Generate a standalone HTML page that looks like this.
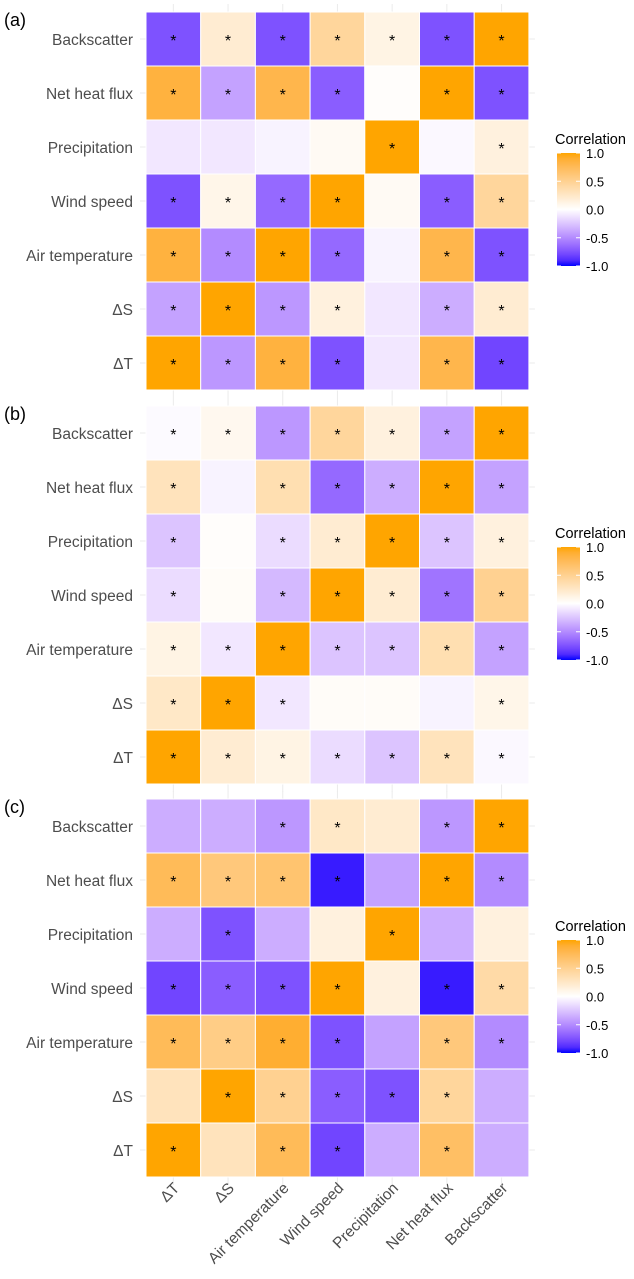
<!DOCTYPE html>
<html><head><meta charset="utf-8"><style>
body{margin:0;background:#fff;font-family:"Liberation Sans",sans-serif}
svg{display:block}
</style></head><body>
<svg id="c" width="634" height="1279" xmlns="http://www.w3.org/2000/svg"></svg>
<script>
const vars = ["ΔT","ΔS","Air temperature","Wind speed","Precipitation","Net heat flux","Backscatter"];
const rowsTopToBottom = ["Backscatter","Net heat flux","Precipitation","Wind speed","Air temperature","ΔS","ΔT"];
const panelLabels = ["(a)","(b)","(c)"];
const legendTicks = [1.0,0.5,0.0,-0.5,-1.0];
const valsA = [
 [-0.75,0.2,-0.75,0.45,0.12,-0.75,1],
 [0.85,-0.4,0.8,-0.7,0.02,1,-0.75],
 [-0.1,-0.1,-0.05,0.05,1,-0.03,0.15],
 [-0.75,0.1,-0.65,1,0.05,-0.7,0.45],
 [0.85,-0.5,1,-0.65,-0.05,0.8,-0.75],
 [-0.4,1,-0.45,0.15,-0.1,-0.35,0.2],
 [1,-0.45,0.85,-0.75,-0.1,0.8,-0.8]];
const starsA = [
 [1,1,1,1,1,1,1],[1,1,1,1,0,1,1],[0,0,0,0,1,0,1],[1,1,1,1,0,1,1],[1,1,1,1,0,1,1],[1,1,1,1,0,1,1],[1,1,1,1,0,1,1]];
const valsB = [
 [-0.02,0.07,-0.45,0.45,0.15,-0.4,1],
 [0.3,-0.05,0.35,-0.65,-0.35,1,-0.4],
 [-0.25,0.02,-0.15,0.2,1,-0.25,0.15],
 [-0.15,0.03,-0.3,1,0.2,-0.6,0.5],
 [0.12,-0.1,1,-0.25,-0.25,0.35,-0.4],
 [0.25,1,-0.1,0.03,0.03,-0.05,0.1],
 [1,0.2,0.12,-0.15,-0.25,0.3,-0.03]];
const starsB = [
 [1,1,1,1,1,1,1],[1,0,1,1,1,1,1],[1,0,1,1,1,1,1],[1,0,1,1,1,1,1],[1,1,1,1,1,1,1],[1,1,1,0,0,0,1],[1,1,1,1,1,1,1]];
const valsC = [
 [-0.35,-0.35,-0.45,0.25,0.2,-0.45,1],
 [0.75,0.6,0.65,-0.95,-0.4,1,-0.5],
 [-0.35,-0.75,-0.35,0.15,1,-0.35,0.15],
 [-0.8,-0.7,-0.75,1,0.15,-0.95,0.4],
 [0.75,0.55,0.9,-0.75,-0.4,0.6,-0.5],
 [0.3,1,0.5,-0.7,-0.75,0.45,-0.35],
 [1,0.3,0.75,-0.8,-0.35,0.7,-0.35]];
const starsC = [
 [0,0,1,1,0,1,1],[1,1,1,1,0,1,1],[0,1,0,0,1,0,0],[1,1,1,1,0,1,1],[1,1,1,1,0,1,1],[0,1,1,1,1,1,0],[1,0,1,1,0,1,0]];

const panels=[{v:valsA,s:starsA},{v:valsB,s:starsB},{v:valsC,s:starsC}];
const NS="http://www.w3.org/2000/svg";
const svg=document.getElementById('c');
function mk(t,a,p){const e=document.createElementNS(NS,t);for(const k in a)e.setAttribute(k,a[k]);(p||svg).appendChild(e);return e;}
function s2l(c){c/=255;return c<=0.04045?c/12.92:Math.pow((c+0.055)/1.055,2.4);}
function l2s(c){c=c<=0.0031308?12.92*c:1.055*Math.pow(c,1/2.4)-0.055;return Math.max(0,Math.min(255,Math.round(c*255)));}
function toLab(r,g,b){r=s2l(r);g=s2l(g);b=s2l(b);let x=(r*0.4124+g*0.3576+b*0.1805)/0.95047,y=r*0.2126+g*0.7152+b*0.0722,z=(r*0.0193+g*0.1192+b*0.9505)/1.08883;const f=t=>t>0.008856?Math.cbrt(t):7.787*t+16/116;x=f(x);y=f(y);z=f(z);return[116*y-16,500*(x-y),200*(y-z)];}
function fromLab(L,a,b){let y=(L+16)/116,x=a/500+y,z=y-b/200;const f=t=>t*t*t>0.008856?t*t*t:(t-16/116)/7.787;x=f(x)*0.95047;y=f(y);z=f(z)*1.08883;const r=x*3.2406+y*-1.5372+z*-0.4986,g=x*-0.9689+y*1.8758+z*0.0415,bb=x*0.0557+y*-0.2040+z*1.0570;return`rgb(${l2s(r)},${l2s(g)},${l2s(bb)})`;}
const LH=toLab(255,165,0),LM=toLab(255,255,255),LL=toLab(0,0,255);
function col(v){const e=v>=0?LH:LL,t=Math.min(1,Math.abs(v));return fromLab(LM[0]+(e[0]-LM[0])*t,LM[1]+(e[1]-LM[1])*t,LM[2]+(e[2]-LM[2])*t);}
const X0=146,CW=54.7,RH=54,tops=[12,406,799];
const xs=i=>X0+i*CW, ys=(p,j)=>tops[p]+j*RH;
const defs=mk('defs',{});
const lg=mk('linearGradient',{id:'lg',x1:0,y1:0,x2:0,y2:1},defs);
for(let k=0;k<=20;k++){const v=1-k/10;mk('stop',{offset:(k/20),'stop-color':col(v)},lg);}
panels.forEach((P,p)=>{
  const g=mk('g',{});
  
  
  const t=tops[p];
  for(let i=0;i<7;i++){
    const gl=mk('line',{x1:xs(i)+CW/2,x2:xs(i)+CW/2,y1:t-8,y2:t+7*RH+8,stroke:'#ebebeb','stroke-width':1},g);
    
    const hl=mk('line',{x1:X0-6,x2:X0+7*CW+6,y1:ys(p,i)+RH/2,y2:ys(p,i)+RH/2,stroke:'#ebebeb','stroke-width':1},g);
    
  }
  const pl=mk('text',{x:4,y:t+14,'font-size':18,fill:'#000'},g);pl.textContent=panelLabels[p];
  
  P.v.forEach((row,j)=>{
    const yl=mk('text',{x:133,y:ys(p,j)+RH/2+6,'font-size':15.5,fill:'#4d4d4d','text-anchor':'end'},g);
    yl.textContent=rowsTopToBottom[j];
    
    row.forEach((v,i)=>{
      const r=mk('rect',{x:xs(i),y:ys(p,j),width:CW,height:RH,fill:col(v),stroke:'#fff','stroke-width':1},g);
      
      if(P.s[j][i]){const s=mk('text',{x:xs(i)+CW/2,y:ys(p,j)+RH/2+7,'font-size':16,'text-anchor':'middle',fill:'#000'},g);s.textContent='*';
        }
    });
  });
  const ly=t+141;
  const lt=mk('text',{x:555,y:ly-9,'font-size':14.5,fill:'#000'},g);lt.textContent='Correlation';
  
  const lb=mk('rect',{x:557,y:ly,width:23,height:113,fill:'url(#lg)'},g);
  
  legendTicks.forEach((v,k)=>{const yy=ly+(1-v)/2*113;
    mk('line',{x1:557,x2:561,y1:yy,y2:yy,stroke:'#fff'},g);mk('line',{x1:576,x2:580,y1:yy,y2:yy,stroke:'#fff'},g);
    const tt=mk('text',{x:586,y:yy+5,'font-size':13,fill:'#000'},g);tt.textContent=v.toFixed(1);
    });
});
vars.forEach((n,i)=>{const cx=xs(i)+CW/2+7,cy=1189;
  const t=mk('text',{x:cx,y:cy,'font-size':15.5,fill:'#4d4d4d','text-anchor':'end',transform:`rotate(-45 ${cx} ${cy})`});
  t.textContent=n;});
</script>
</body></html>
